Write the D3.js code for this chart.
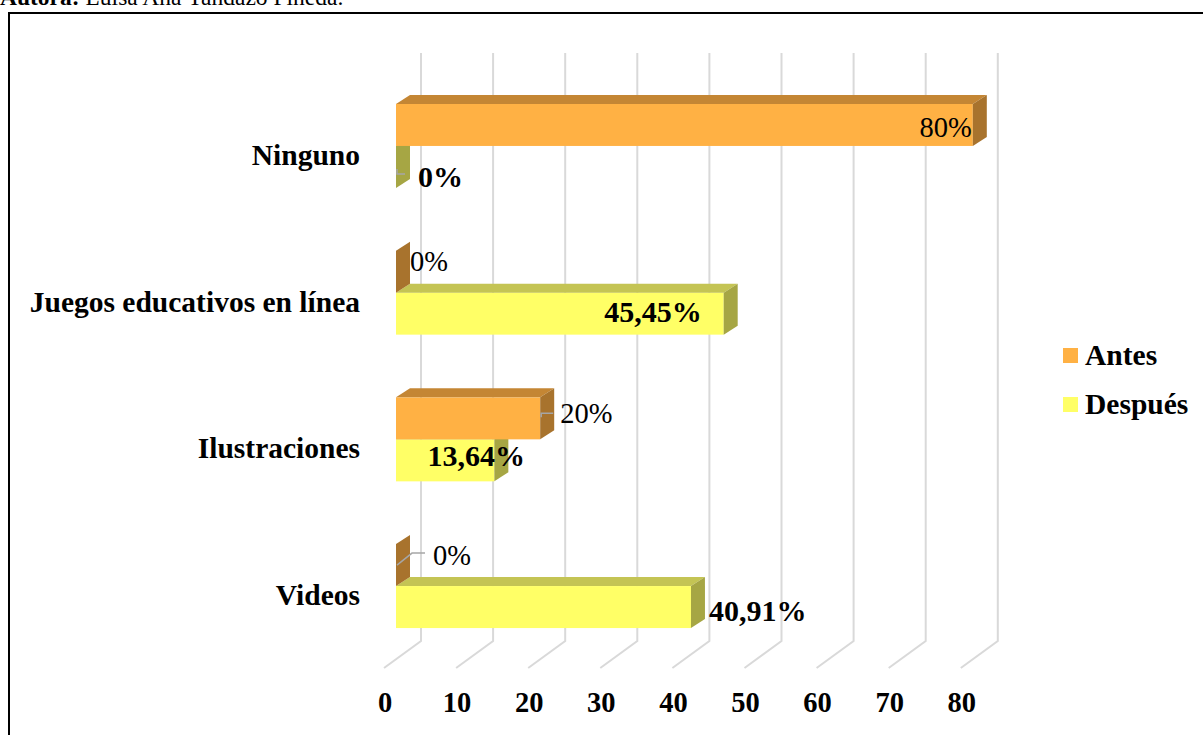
<!DOCTYPE html>
<html>
<head>
<meta charset="utf-8">
<script src="https://cdn.jsdelivr.net/npm/d3@7"></script>
<style>
  html, body { margin: 0; padding: 0; background: #fff; }
  svg { display: block; font-family: "Liberation Serif", "Times New Roman", serif; }
</style>
</head>
<body>
<svg id="chart" width="1203" height="735"></svg>
<script>
const categories = ["Ninguno", "Juegos educativos en línea", "Ilustraciones", "Videos"];
const seriesNames = ["Antes", "Después"];
const antes = [80, 0, 20, 0];
const despues = [0, 45.45, 13.64, 40.91];
const antesLabels = ["80%", "0%", "20%", "0%"];
const despuesLabels = ["0%", "45,45%", "13,64%", "40,91%"];
const tickValues = [0, 10, 20, 30, 40, 50, 60, 70, 80];

const svg = d3.select("#chart");

// caption (partly cut off at top, as in the source)
const cap = svg.append("text").attr("x", 0).attr("y", 5).attr("font-size", 23.5).attr("fill", "#000");
cap.append("tspan").attr("font-weight", "bold").text("Autora: ");
cap.append("tspan").text("Luisa Ana Yandazo Pineda.");

// frame
svg.append("rect").attr("x", 9).attr("y", 13).attr("width", 1300).attr("height", 800)
  .attr("fill", "none").attr("stroke", "#000").attr("stroke-width", 2);

const x = d3.scaleLinear().domain([0, 80]).range([396, 972.8]);
const y = d3.scaleBand().domain(categories).range([72.6, 659.4]);
const barH = 42;
const inner = d3.scaleBand().domain(seriesNames).range([0, 2 * barH]);
const groupOff = (y.bandwidth() - 2 * barH) / 2;
const DX = 14, DY = 9;          // bar depth
const WX = 25;                  // back wall offset
const gridTop = 53, gridBot = 641, floorFront = 668;

const colors = {
  "Antes":   { front: "#FFB144", top: "#C48634", side: "#A8732D" },
  "Después": { front: "#FFFF66", top: "#C4C454", side: "#A6A644" }
};

// gridlines (back wall + floor)
const grid = svg.append("g").attr("fill", "none").attr("stroke", "#D9D9D9").attr("stroke-width", 2);
tickValues.forEach(v => {
  grid.append("path").attr("d",
    `M${x(v) + WX},${gridTop} L${x(v) + WX},${gridBot} L${x(v) - 12},${floorFront}`);
});

// axis labels
svg.append("g").selectAll("text").data(tickValues).join("text")
  .attr("x", v => x(v) - 11).attr("y", 712)
  .attr("text-anchor", "middle").attr("font-size", 28.5).attr("font-weight", "bold")
  .text(v => v);

// category labels
svg.append("g").selectAll("text").data(categories).join("text")
  .attr("x", 360).attr("y", c => y(c) + y.bandwidth() / 2 + 19)
  .attr("text-anchor", "end").attr("font-size", 29.5).attr("font-weight", "bold")
  .text(c => c);

function bar3d(g, v, y0, col) {
  const x0 = x(0), x1 = x(v), y1 = y0 + barH;
  if (v > 0) {
    g.append("rect").attr("x", x0).attr("y", y0).attr("width", x1 - x0).attr("height", barH).attr("fill", col.front);
    g.append("path").attr("d", `M${x0},${y0} L${x0 + DX},${y0 - DY} L${x1 + DX},${y0 - DY} L${x1},${y0} Z`).attr("fill", col.top);
  }
  g.append("path").attr("d", `M${x1},${y0} L${x1 + DX},${y0 - DY} L${x1 + DX},${y1 - DY} L${x1},${y1} Z`).attr("fill", col.side);
}

const bars = svg.append("g");
// draw Después first (lower), then Antes on top
categories.forEach((c, i) => {
  const g = bars.append("g");
  bar3d(g, despues[i], y(c) + groupOff + inner("Después"), colors["Después"]);
  bar3d(g, antes[i], y(c) + groupOff + inner("Antes"), colors["Antes"]);
});

// data labels
const lab = svg.append("g").attr("fill", "#000");
const leaders = svg.append("g").attr("fill", "none").attr("stroke", "#A6A6A6").attr("stroke-width", 1.5);
categories.forEach((c, i) => {
  const ya = y(c) + groupOff + inner("Antes");
  const yd = y(c) + groupOff + inner("Después");
  // Antes labels (normal weight)
  let ax, ay, anchor = "start";
  if (i === 0) { ax = x(antes[i]) - 1; ay = ya + 33; anchor = "end"; }
  else if (i === 1) { ax = x(antes[i]) + 14; ay = ya + 20; }
  else if (i === 2) {
    ax = x(antes[i]) + 20; ay = ya + 26;
    leaders.append("path").attr("d", `M${x(antes[i]) + 1},${ya + 20} L${x(antes[i]) + 1},${ya + 16} L${x(antes[i]) + 13},${ya + 16}`);
  } else {
    ax = x(antes[i]) + 37; ay = ya + 21;
    leaders.append("path").attr("d", `M${x(antes[i]) + 1},${ya + 21} L${x(antes[i]) + 16},${ya + 9} L${x(antes[i]) + 29},${ya + 9}`);
  }
  lab.append("text").attr("x", ax).attr("y", ay).attr("text-anchor", anchor)
    .attr("font-size", 28.5).text(antesLabels[i]);

  // Después labels (bold)
  let dx, dy, dAnchor = "start";
  if (i === 0) {
    dx = x(despues[i]) + 22; dy = yd + 41;
    leaders.append("path").attr("d", `M${x(despues[i]) + 1},${yd + 23} L${x(despues[i]) + 1},${yd + 28} L${x(despues[i]) + 9},${yd + 28}`);
  }
  else if (i === 1) { dx = x(despues[i]) - 22; dy = yd + 29; dAnchor = "end"; }
  else if (i === 2) { dx = x(despues[i]) - 18; dy = yd + 27; dAnchor = "middle"; }
  else { dx = x(despues[i]) + 18; dy = yd + 35; }
  lab.append("text").attr("x", dx).attr("y", dy).attr("text-anchor", dAnchor)
    .attr("font-size", 30).attr("font-weight", "bold").text(despuesLabels[i]);
});

// legend
const leg = svg.append("g");
seriesNames.forEach((s, i) => {
  const ly = 348 + i * 49;
  leg.append("rect").attr("x", 1063).attr("y", ly).attr("width", 15).attr("height", 15).attr("fill", colors[s].front);
  leg.append("text").attr("x", 1085).attr("y", ly + 17).attr("font-size", 29.5).attr("font-weight", "bold").text(s);
});
</script>
</body>
</html>
